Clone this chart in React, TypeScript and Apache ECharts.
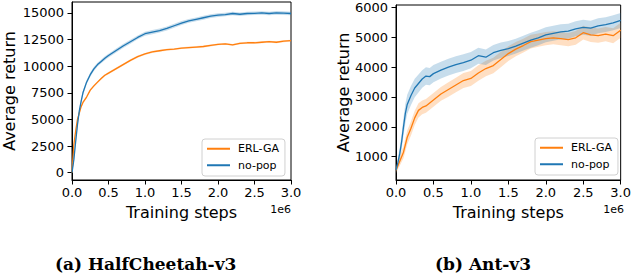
import React, { useEffect, useRef } from "react";
import * as echarts from "echarts";

// x positions in units of 1e6 training steps
const steps = [0, 0.025, 0.05, 0.075, 0.1, 0.125, 0.15, 0.2, 0.25, 0.3, 0.35, 0.4, 0.45, 0.5,
  0.6, 0.7, 0.8, 0.9, 1.0, 1.1, 1.2, 1.3, 1.4, 1.5, 1.6, 1.7, 1.8, 1.9, 2.0,
  2.1, 2.2, 2.3, 2.4, 2.5, 2.6, 2.7, 2.8, 2.9, 3.0];

// HalfCheetah-v3
const hcErlMean = [0, 2600, 3900, 5000, 5600, 6200, 6600, 7100, 7750, 8150, 8500, 8850, 9150, 9350,
  9750, 10150, 10550, 10900, 11150, 11350, 11450, 11550, 11600, 11700, 11750, 11800, 11850, 11950, 12050,
  12100, 12000, 12150, 12200, 12200, 12250, 12300, 12250, 12350, 12400];
const hcErlStd = [0, 200, 200, 180, 150, 130, 120, 110, 100, 100, 100, 100, 100, 100,
  100, 100, 100, 100, 100, 100, 100, 90, 90, 90, 90, 90, 90, 90, 90,
  90, 90, 90, 90, 90, 90, 90, 90, 90, 90];
const hcNoPopMean = [0, 1200, 2900, 4500, 5800, 6700, 7500, 8500, 9200, 9750, 10150, 10450, 10750, 11000,
  11450, 11900, 12300, 12700, 13050, 13200, 13350, 13550, 13800, 14050, 14250, 14400, 14550, 14700, 14800,
  14850, 14950, 14880, 14950, 14970, 15000, 14950, 15010, 14980, 14950];
const hcNoPopStd = [0, 300, 300, 300, 250, 250, 220, 200, 200, 190, 180, 180, 180, 180,
  180, 180, 180, 180, 190, 190, 190, 190, 190, 190, 180, 180, 180, 180, 170,
  170, 170, 170, 170, 170, 170, 170, 170, 170, 170];

// Ant-v3
const antErlMean = [550, 700, 850, 1000, 1150, 1400, 1650, 1950, 2300, 2550, 2650, 2700, 2800, 2900,
  3100, 3250, 3400, 3550, 3620, 3800, 3950, 4050, 4250, 4450, 4600, 4720, 4850, 4900, 4950,
  4980, 4950, 4920, 4980, 5150, 5080, 5050, 5100, 5050, 5230];
const antErlStd = [100, 120, 150, 180, 200, 220, 230, 240, 240, 240, 230, 230, 230, 230,
  230, 240, 240, 250, 250, 260, 260, 260, 260, 250, 240, 230, 230, 220, 220,
  220, 220, 220, 230, 230, 240, 240, 240, 250, 250];
const antNoPopMean = [550, 800, 1100, 1500, 2000, 2450, 2750, 3050, 3300, 3450, 3600, 3700, 3680, 3780,
  3900, 4000, 4080, 4150, 4230, 4380, 4330, 4480, 4560, 4620, 4700, 4800, 4900, 4980, 5080,
  5130, 5180, 5200, 5280, 5330, 5300, 5380, 5420, 5480, 5560];
const antNoPopStd = [100, 150, 200, 250, 300, 320, 320, 320, 310, 300, 290, 290, 290, 290,
  280, 280, 280, 280, 270, 270, 260, 260, 260, 250, 250, 250, 250, 250, 250,
  250, 250, 250, 250, 250, 250, 250, 250, 250, 250];

const hcYTicks = [0, 2500, 5000, 7500, 10000, 12500, 15000];
const antYTicks = [1000, 2000, 3000, 4000, 5000, 6000];
const seriesNames = ["ERL-GA", "no-pop"];
const captions = ["(a) HalfCheetah-v3", "(b) Ant-v3"];

const ORANGE = "#ff7f0e";
const BLUE = "#1f77b4";
const FONT = "DejaVu Sans";

function bandSeries(idx: number, key: string, mean: number[], std: number[], color: string) {
  const data = steps.map((x, i) => [x, mean[i] - std[i], mean[i] + std[i]]);
  return {
    type: "custom", name: key, xAxisIndex: idx, yAxisIndex: idx, silent: true, clip: true,
    data,
    encode: { x: 0, y: [1, 2] },
    renderItem: (params: any, api: any) => {
      if (params.dataIndex !== 0) return null;
      const upper = data.map((d) => api.coord([d[0], d[2]]));
      const lower = data.map((d) => api.coord([d[0], d[1]])).reverse();
      return {
        type: "polygon",
        shape: { points: upper.concat(lower) },
        style: { fill: color, opacity: 0.25, stroke: "none" },
      };
    },
  };
}

function lineSeries(idx: number, name: string, mean: number[], color: string) {
  return {
    type: "line", name, xAxisIndex: idx, yAxisIndex: idx,
    data: steps.map((x, i) => [x, mean[i]]),
    symbol: "none", color, itemStyle: { color },
    lineStyle: { color, width: 1.3 },
  };
}

export default function App() {
  const ref = useRef<HTMLDivElement>(null);
  useEffect(() => {
    if (!ref.current) return;
    const chart = echarts.init(ref.current, undefined, { renderer: "svg" });
    const grids = [
      { left: 71, top: 2, width: 220, height: 178 },
      { left: 396, top: 5, width: 228, height: 175 },
    ];
    const yRanges = [
      { min: -690, max: 16030, ticks: hcYTicks, gap: 55 },
      { min: 220, max: 6077, ticks: antYTicks, gap: 45 },
    ];
    const option: any = {
      animation: false,
      grid: grids.map((g) => ({ ...g, show: true, borderColor: "#000", borderWidth: 1, backgroundColor: "transparent" })),
      xAxis: [0, 1].map((i) => ({
        type: "value", gridIndex: i, min: 0, max: 3, interval: 0.5,
        axisLine: { show: true, onZero: false, lineStyle: { color: "#000", width: 1 } },
        axisTick: { show: true, length: 4.5, lineStyle: { color: "#000", width: 1 } },
        axisLabel: {
          margin: 6, fontFamily: FONT, fontSize: 13, color: "#000", showMinLabel: true, showMaxLabel: true,
          formatter: (v: number) => v.toFixed(1),
        },
        splitLine: { show: false },
        name: "Training steps", nameLocation: "middle", nameGap: 24,
        nameTextStyle: { fontFamily: FONT, fontSize: 16, color: "#000" },
      })),
      yAxis: [0, 1].map((i) => ({
        type: "value", gridIndex: i, min: yRanges[i].min, max: yRanges[i].max,
        axisLine: { show: true, onZero: false, lineStyle: { color: "#000", width: 1 } },
        axisTick: { show: true, length: 4.5, customValues: yRanges[i].ticks, lineStyle: { color: "#000", width: 1 } },
        axisLabel: {
          margin: 8, fontFamily: FONT, fontSize: 13, color: "#000",
          customValues: yRanges[i].ticks, formatter: (v: number) => String(v),
        },
        splitLine: { show: false },
        name: "Average return", nameLocation: "middle", nameGap: yRanges[i].gap,
        nameTextStyle: { fontFamily: FONT, fontSize: 16, color: "#000" },
      })),
      legend: [
        { left: 202, top: 139 },
        { left: 535, top: 138 },
      ].map((p) => ({
        ...p, orient: "vertical", data: seriesNames, icon: "rect", itemWidth: 23, itemHeight: 2,
        itemGap: 3, padding: [3, 6, 4, 5], borderColor: "#d0d0d0", borderWidth: 1, borderRadius: 3,
        backgroundColor: "rgba(255,255,255,0.8)", selectedMode: false,
        textStyle: { fontFamily: FONT, fontSize: 11, color: "#000", lineHeight: 13.5, padding: [0, 0, 0, 3] },
      })),
      series: [
        bandSeries(0, "hc-erl", hcErlMean, hcErlStd, ORANGE),
        bandSeries(0, "hc-nopop", hcNoPopMean, hcNoPopStd, BLUE),
        lineSeries(0, seriesNames[0], hcErlMean, ORANGE),
        lineSeries(0, seriesNames[1], hcNoPopMean, BLUE),
        bandSeries(1, "ant-erl", antErlMean, antErlStd, ORANGE),
        bandSeries(1, "ant-nopop", antNoPopMean, antNoPopStd, BLUE),
        lineSeries(1, seriesNames[0], antErlMean, ORANGE),
        lineSeries(1, seriesNames[1], antNoPopMean, BLUE),
      ],
      graphic: [
        { type: "text", x: 291, y: 204, style: { text: "1e6", font: `11px '${FONT}'`, fill: "#000", textAlign: "right", textVerticalAlign: "top" } },
        { type: "text", x: 624, y: 204, style: { text: "1e6", font: `11px '${FONT}'`, fill: "#000", textAlign: "right", textVerticalAlign: "top" } },
        { type: "text", x: 55, y: 264, style: { text: captions[0], font: `bold 17px 'DejaVu Serif'`, fill: "#000", textAlign: "left", textVerticalAlign: "middle" } },
        { type: "text", x: 435, y: 264, style: { text: captions[1], font: `bold 17px 'DejaVu Serif'`, fill: "#000", textAlign: "left", textVerticalAlign: "middle" } },
      ],
    };
    chart.setOption(option);
    return () => chart.dispose();
  }, []);
  return (
    <div
      ref={ref}
      style={{ position: "fixed", left: 0, top: 0, width: 634, height: 278, background: "#fff" }}
    />
  );
}
